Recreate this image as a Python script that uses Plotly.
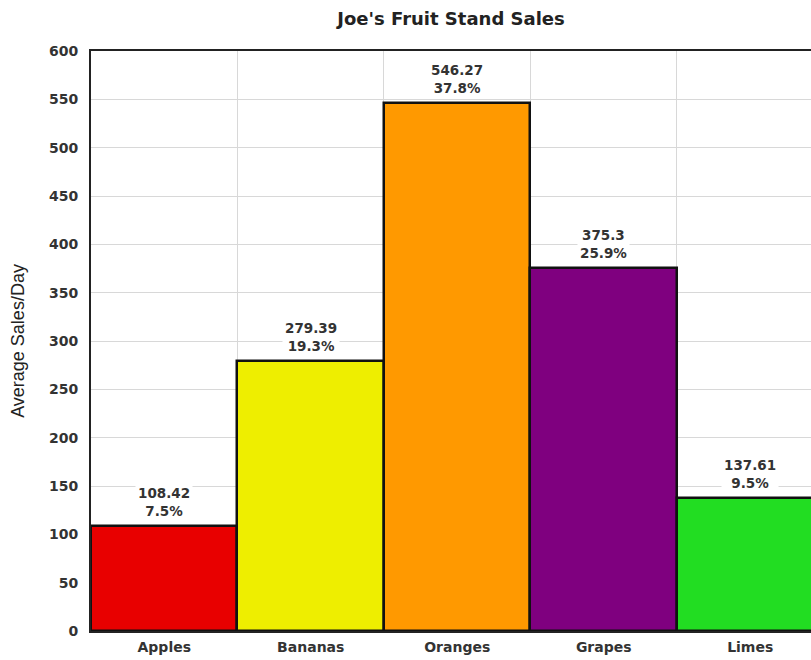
import plotly.graph_objects as go

categories = ["Apples", "Bananas", "Oranges", "Grapes", "Limes"]
sales = [108.42, 279.39, 546.27, 375.3, 137.61]
percent_labels = ["7.5%", "19.3%", "37.8%", "25.9%", "9.5%"]
value_labels = ["108.42", "279.39", "546.27", "375.3", "137.61"]
colors = ["#E80000", "#EEEE00", "#FF9900", "#7F007F", "#22DD22"]
y_ticks = list(range(0, 601, 50))

FONT_B = "DejaVu Sans"

fig = go.Figure(go.Bar(
    x=categories, y=sales,
    marker=dict(color=colors, line=dict(color="#111111", width=2.5)),
    hoverinfo="x+y",
))

for cat, val, vl, pl in zip(categories, sales, value_labels, percent_labels):
    fig.add_annotation(
        x=cat, y=val, xref="x", yref="y",
        text=f"{vl}<br>{pl}", showarrow=False,
        yanchor="bottom", yshift=4,
        bgcolor="white", borderpad=2,
        font=dict(family=FONT_B, size=13.5, color="#333333", weight="bold"),
    )

fig.update_layout(
    width=811, height=660,
    margin=dict(l=91, r=0, t=51, b=29),
    paper_bgcolor="white", plot_bgcolor="white",
    bargap=0,
    showlegend=False,
    title=dict(text="<b>Joe's Fruit Stand Sales</b>", x=0.5, xref="paper", xanchor="center",
               y=1 - 19 / 660, yref="container", yanchor="middle",
               font=dict(family=FONT_B, size=18, color="#222222")),
)
fig.update_xaxes(
    type="category", range=[-0.5, 4.415], tickson="boundaries",
    showgrid=True, gridcolor="#d8d8d8", gridwidth=1,
    showline=True, linecolor="#222222", linewidth=2, mirror=True,
    ticks="", ticklabelstandoff=2,
    tickfont=dict(family=FONT_B, size=14, color="#333333", weight="bold"),
)
fig.update_yaxes(
    range=[0, 600], tickvals=y_ticks,
    showgrid=True, gridcolor="#d8d8d8", gridwidth=1,
    showline=True, linecolor="#222222", linewidth=2, mirror=False,
    ticks="", zeroline=False, ticklabelstandoff=8,
    tickfont=dict(family=FONT_B, size=14, color="#333333", weight="bold"),
    title=dict(text="Average Sales/Day", standoff=20,
               font=dict(family="Liberation Sans", size=18, color="#222222")),
)

fig.write_html("out.html", config={"displayModeBar": False},
               post_script="document.body.style.margin='0';document.body.style.padding='0';")
